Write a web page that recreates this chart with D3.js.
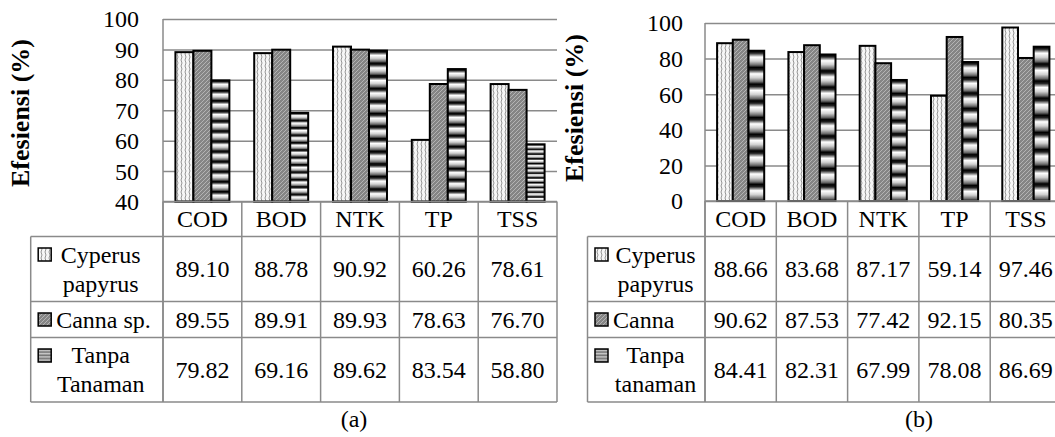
<!DOCTYPE html>
<html>
<head>
<meta charset="utf-8">
<script src="https://cdn.jsdelivr.net/npm/d3@7"></script>
<style>
  html, body { margin: 0; padding: 0; background: #fff; }
  svg { display: block; overflow: hidden; }
  text { font-family: "Liberation Serif", "Times New Roman", serif; fill: #000; }
</style>
</head>
<body>
<script>
const categories = ['COD', 'BOD', 'NTK', 'TP', 'TSS'];

// panel (a)
const labelsA = [['Cyperus', 'papyrus'], ['Canna sp.'], ['Tanpa', 'Tanaman']];
const cyperusA = [89.10, 88.78, 90.92, 60.26, 78.61];
const cannaA = [89.55, 89.91, 89.93, 78.63, 76.70];
const tanpaA = [79.82, 69.16, 89.62, 83.54, 58.80];
const ticksA = [40, 50, 60, 70, 80, 90, 100];

// panel (b)
const labelsB = [['Cyperus', 'papyrus'], ['Canna'], ['Tanpa', 'tanaman']];
const cyperusB = [88.66, 83.68, 87.17, 59.14, 97.46];
const cannaB = [90.62, 87.53, 77.42, 92.15, 80.35];
const tanpaB = [84.41, 82.31, 67.99, 78.08, 86.69];
const ticksB = [0, 20, 40, 60, 80, 100];

const svg = d3.select('body').append('svg')
  .attr('width', 1055)
  .attr('height', 437);

const defs = svg.append('defs');

// light fill with wavy vertical lines
const p1 = defs.append('pattern')
  .attr('id', 'wave')
  .attr('patternUnits', 'userSpaceOnUse')
  .attr('width', 4).attr('height', 6);
p1.append('rect').attr('width', 4).attr('height', 6).attr('fill', '#f6f6f6');
p1.append('path').attr('d', 'M1,0 L2,3 L1,6')
  .attr('fill', 'none').attr('stroke', '#8a8a8a').attr('stroke-width', 0.9);

// dark gray with lighter upward diagonals
const p2 = defs.append('pattern')
  .attr('id', 'diag')
  .attr('patternUnits', 'userSpaceOnUse')
  .attr('width', 4).attr('height', 4);
p2.append('rect').attr('width', 4).attr('height', 4).attr('fill', '#858585');
p2.append('path').attr('d', 'M0,4 L4,0 M-1,1 L1,-1 M3,5 L5,3')
  .attr('stroke', '#b4b4b4').attr('stroke-width', 1);

// horizontal gradient stripes, a fixed count per bar
function stripes(id, n, stops) {
  const g = defs.append('linearGradient')
    .attr('id', id)
    .attr('x1', 0).attr('y1', 0).attr('x2', 0).attr('y2', 1 / n)
    .attr('spreadMethod', 'repeat');
  stops.forEach(s => g.append('stop').attr('offset', s[0]).attr('stop-color', s[1]));
}
const barStops = [[0, '#000'], [0.14, '#222'], [0.38, '#fff'], [0.62, '#d0d0d0'], [0.86, '#6a6a6a'], [1, '#000']];
stripes('stripeA', 12, barStops);
stripes('stripeB', 9, barStops);
stripes('stripeKey', 4, [[0, '#777'], [0.4, '#c8c8c8'], [0.8, '#8a8a8a'], [1, '#777']]);

const lineColor = '#8a8a8a';

function drawPanel(p) {
  const g = svg.append('g');
  const series = [p.s1, p.s2, p.s3];

  const y = d3.scaleLinear().domain([p.ticks[0], 100]).range([p.bottom, p.top]);
  const x = d3.scaleBand().domain(categories).range([p.left, p.right]);
  const xs = d3.scaleBand().domain([0, 1, 2]).range([0, x.bandwidth()])
    .paddingInner(0).paddingOuter(p.outer);

  // gridlines + tick labels
  const axis = g.append('g')
    .attr('transform', `translate(${p.left},0)`)
    .call(d3.axisLeft(y).tickValues(p.ticks).tickSizeInner(-(p.right - p.left)).tickSizeOuter(0).tickPadding(p.tickPad));
  axis.select('.domain').remove();
  axis.selectAll('line').attr('stroke', lineColor).attr('stroke-width', 1.5);
  axis.selectAll('text')
    .attr('font-size', 24)
    .attr('font-family', '"Liberation Serif", serif')
    .attr('dy', '0.33em');

  g.append('line')
    .attr('x1', p.left).attr('x2', p.left)
    .attr('y1', p.top).attr('y2', p.rows[p.rows.length - 1])
    .attr('stroke', lineColor).attr('stroke-width', 1.5);

  // bars
  series.forEach((vals, i) => {
    g.append('g').selectAll('rect')
      .data(vals)
      .join('rect')
      .attr('x', (d, j) => x(categories[j]) + xs(i))
      .attr('y', d => y(d))
      .attr('width', xs.bandwidth())
      .attr('height', d => y(p.ticks[0]) - y(d))
      .attr('fill', p.fills[i])
      .attr('stroke', '#000')
      .attr('stroke-width', 2);
  });

  // data table
  const rows = p.rows;
  const mids = d3.pairs(rows).map(r => (r[0] + r[1]) / 2);

  rows.forEach((ry, k) => {
    g.append('line')
      .attr('x1', k === 0 ? p.left : p.legendLeft).attr('x2', p.right)
      .attr('y1', ry).attr('y2', ry)
      .attr('stroke', lineColor).attr('stroke-width', 1.5);
  });
  categories.concat(['end']).forEach((c, k) => {
    const cx = k < categories.length ? x(c) : p.right;
    g.append('line')
      .attr('x1', cx).attr('x2', cx)
      .attr('y1', rows[0]).attr('y2', rows[rows.length - 1])
      .attr('stroke', lineColor).attr('stroke-width', 1.5);
  });
  g.append('line')
    .attr('x1', p.legendLeft).attr('x2', p.legendLeft)
    .attr('y1', rows[1]).attr('y2', rows[rows.length - 1])
    .attr('stroke', lineColor).attr('stroke-width', 1.5);

  g.append('g').selectAll('text')
    .data(categories)
    .join('text')
    .attr('x', d => x(d) + x.bandwidth() / 2)
    .attr('y', mids[0] + 8)
    .attr('text-anchor', 'middle')
    .attr('font-size', 24)
    .text(d => d);

  series.forEach((vals, i) => {
    const m = mids[i + 1];
    g.append('g').selectAll('text')
      .data(vals)
      .join('text')
      .attr('x', (d, j) => x(categories[j]) + x.bandwidth() / 2)
      .attr('y', m + 8)
      .attr('text-anchor', 'middle')
      .attr('font-size', 24)
      .text(d => d.toFixed(2));

    const lines = p.labels[i];
    const keyX = p.legendLeft + 7.5;
    const keyY = lines.length > 1 ? rows[i + 1] + 11.5 : m - 6.5;
    g.append('rect')
      .attr('x', keyX).attr('y', keyY)
      .attr('width', 13).attr('height', 13)
      .attr('fill', p.keyFills[i])
      .attr('stroke', '#000').attr('stroke-width', 1.5);

    if (lines.length === 1) {
      g.append('text')
        .attr('x', keyX + 18).attr('y', m + 8)
        .attr('font-size', 24)
        .text(lines[0]);
    } else {
      g.append('g').selectAll('text')
        .data(lines)
        .join('text')
        .attr('x', p.legendLeft + p.labelMid)
        .attr('y', (d, k) => m + (k === 0 ? -6.5 : 22.5))
        .attr('text-anchor', 'middle')
        .attr('font-size', 24)
        .text(d => d);
    }
  });

  // axis title
  g.append('text')
    .attr('transform', `translate(${p.titleX},${p.titleY}) rotate(-90)`)
    .attr('text-anchor', 'middle')
    .attr('font-size', 26)
    .attr('font-weight', 'bold')
    .text('Efesiensi (%)');

  // caption
  g.append('text')
    .attr('x', p.captionX).attr('y', 427)
    .attr('text-anchor', 'middle')
    .attr('font-size', 24)
    .text(p.caption);
}

drawPanel({
  s1: cyperusA, s2: cannaA, s3: tanpaA, labels: labelsA, ticks: ticksA,
  left: 163, right: 557, top: 19, bottom: 201.5, outer: 0.69, tickPad: 24,
  legendLeft: 30.7, labelMid: 70,
  rows: [201.5, 236.5, 301.5, 337.5, 402],
  fills: ['url(#wave)', 'url(#diag)', 'url(#stripeA)'],
  keyFills: ['url(#wave)', 'url(#diag)', 'url(#stripeKey)'],
  titleX: 28.5, titleY: 113, captionX: 354, caption: '(a)'
});

drawPanel({
  s1: cyperusB, s2: cannaB, s3: tanpaB, labels: labelsB, ticks: ticksB,
  left: 705, right: 1061.5, top: 23, bottom: 201, outer: 0.77, tickPad: 22,
  legendLeft: 587.5, labelMid: 68,
  rows: [201, 236.5, 301.5, 337.5, 402],
  fills: ['url(#wave)', 'url(#diag)', 'url(#stripeB)'],
  keyFills: ['url(#wave)', 'url(#diag)', 'url(#stripeKey)'],
  titleX: 583, titleY: 108, captionX: 919, caption: '(b)'
});
</script>
</body>
</html>
